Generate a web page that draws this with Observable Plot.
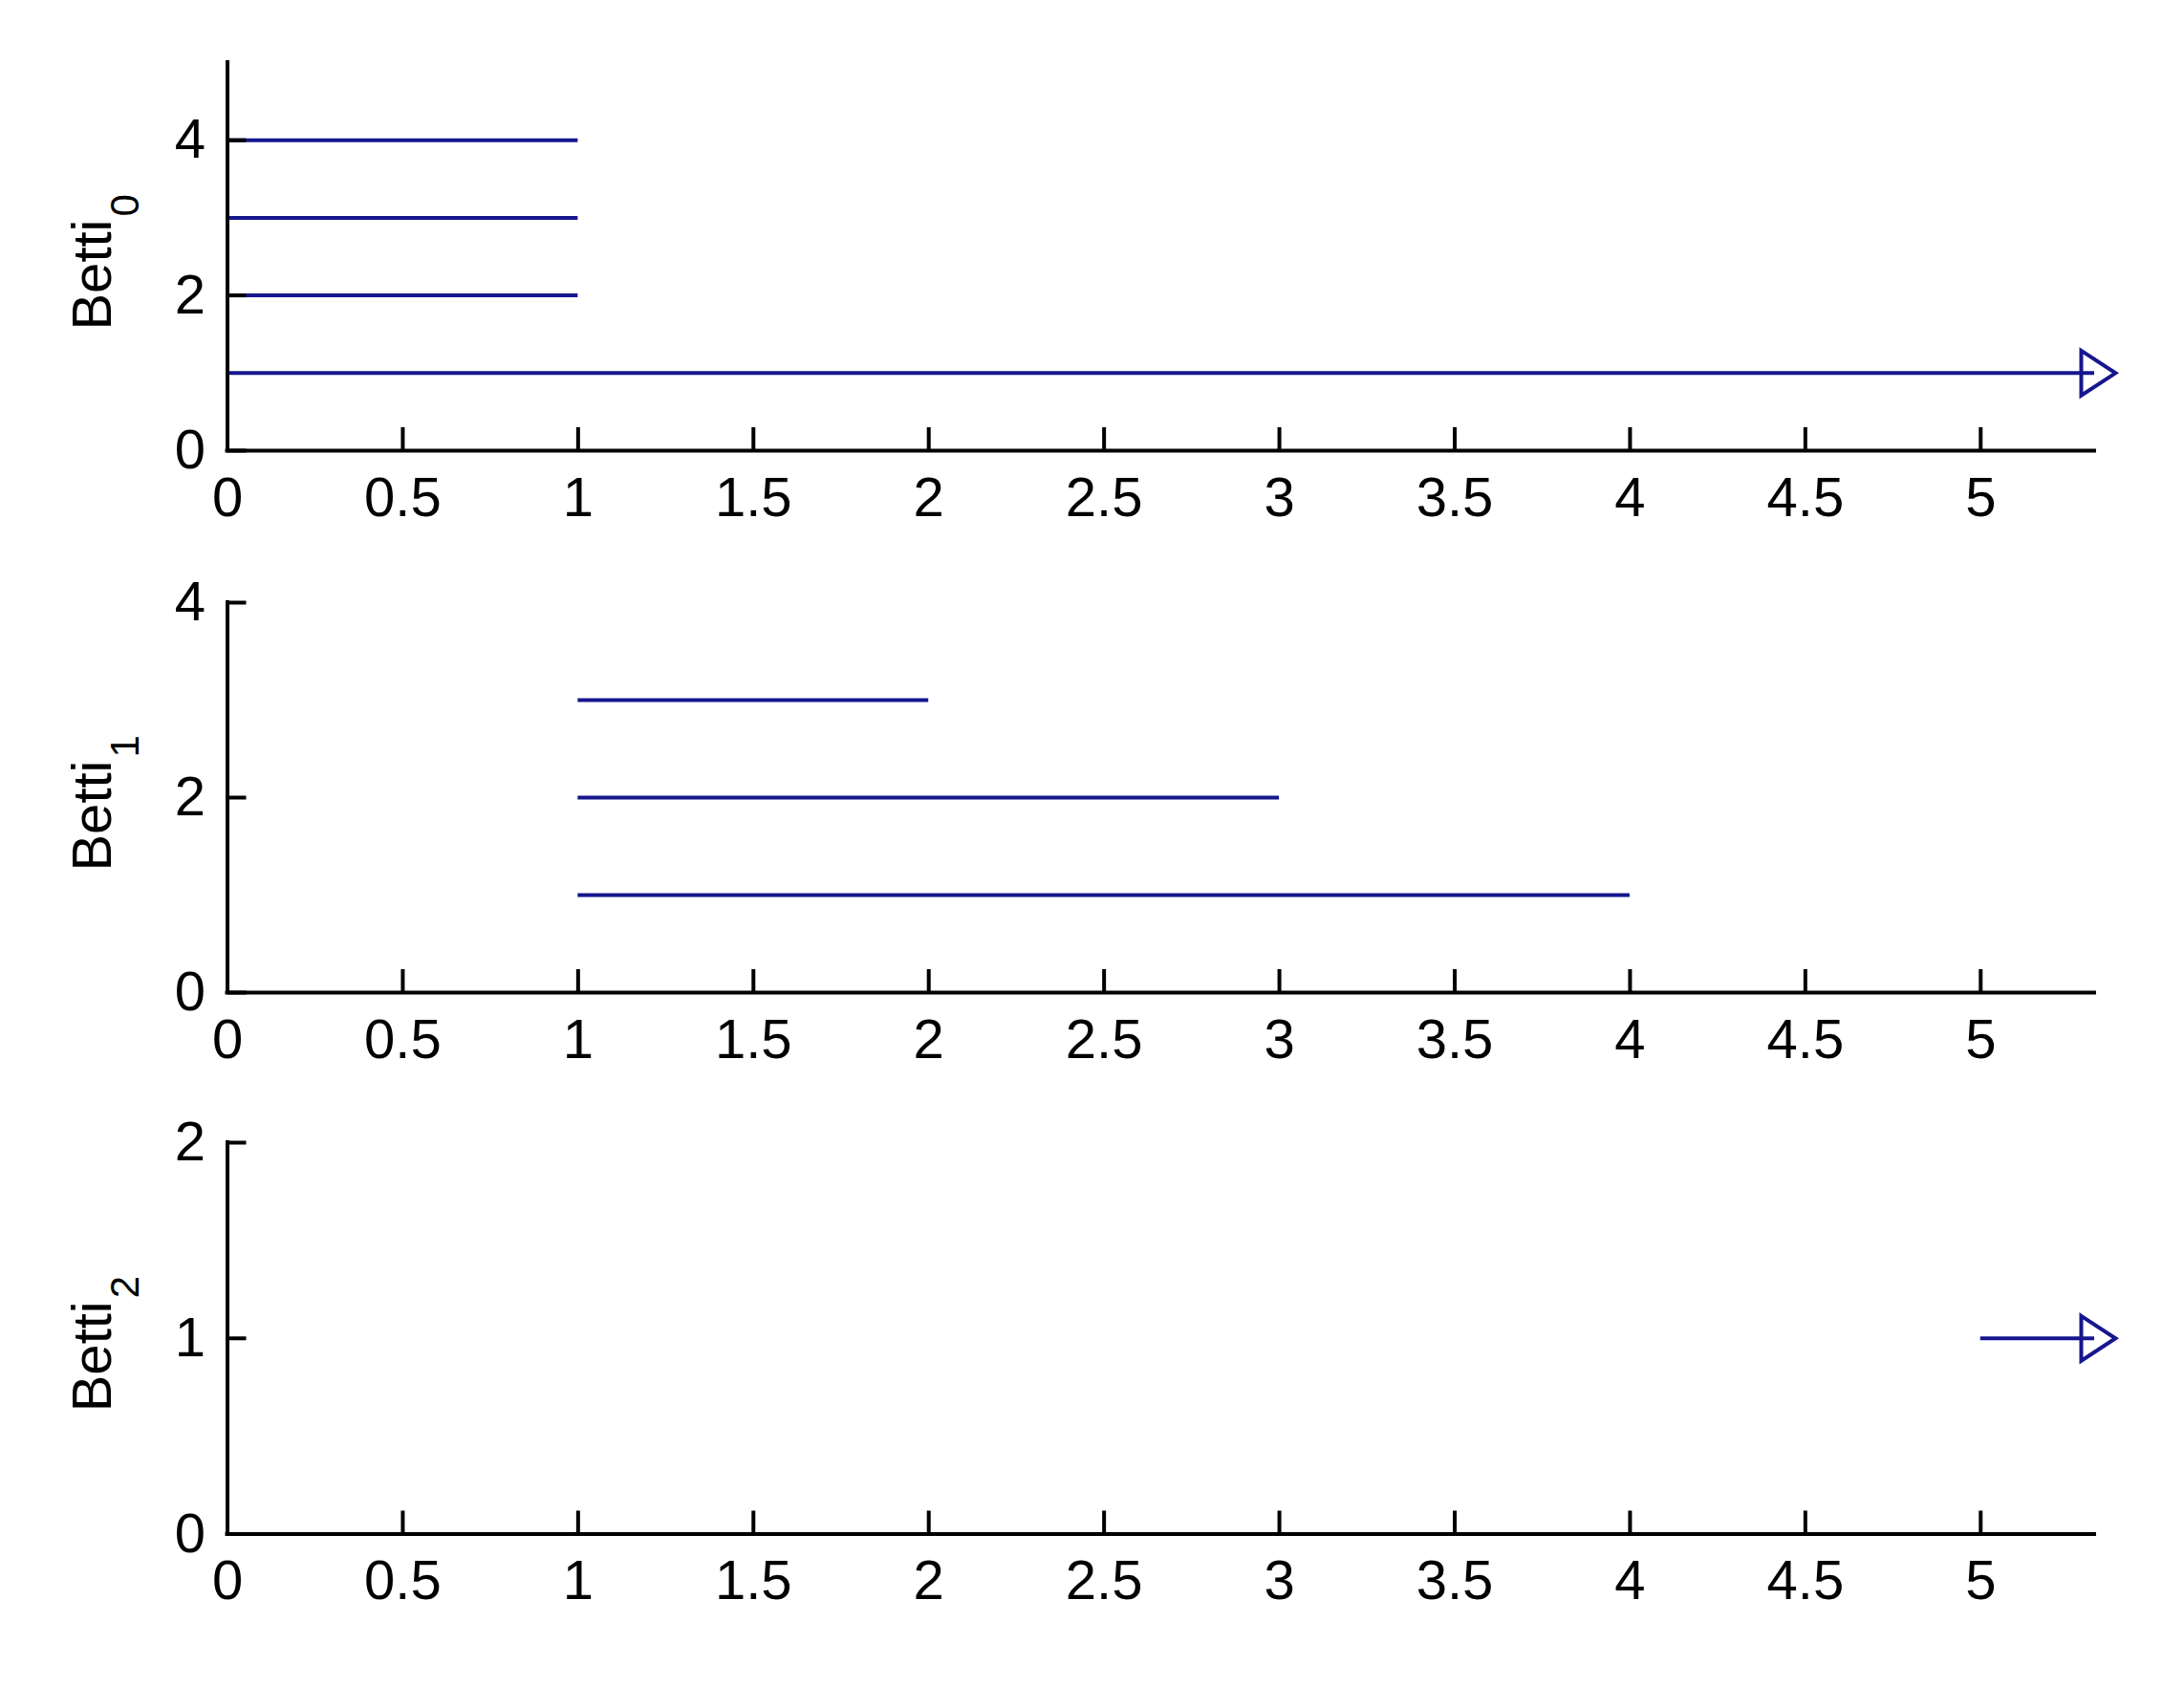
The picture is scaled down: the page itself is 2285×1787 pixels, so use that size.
<!DOCTYPE html>
<html>
<head>
<meta charset="utf-8">
<script src="https://cdn.jsdelivr.net/npm/d3@7"></script>
<script src="https://cdn.jsdelivr.net/npm/@observablehq/plot@0.6"></script>
<style>
  html, body { margin: 0; padding: 0; background: #ffffff; }
  #chart { position: relative; width: 2285px; height: 1787px; overflow: hidden; background: #ffffff; }
  #chart svg { position: absolute; left: 0; }
</style>
</head>
<body>
<div id="chart"></div>
<script>
// ---- data ----
// Betti_0 barcode
const betti0Birth = [0, 0, 0, 0];
const betti0Death = [1, 1, 1, Infinity];
const betti0Level = [4, 3, 2, 1];
// Betti_1 barcode
const betti1Birth = [1, 1, 1];
const betti1Death = [2, 3, 4];
const betti1Level = [3, 2, 1];
// Betti_2 barcode
const betti2Birth = [5];
const betti2Death = [Infinity];
const betti2Level = [1];

const xTicks = [0, 0.5, 1, 1.5, 2, 2.5, 3, 3.5, 4, 4.5, 5];
const xDomain = [0, 5.325];
const panelLabels = ["Betti", "Betti", "Betti"];
const panelSubs = ["0", "1", "2"];
const yDomains = [[0, 5], [0, 4], [0, 2]];
const yTicksList = [[0, 2, 4], [0, 2, 4], [0, 1, 2]];

// ---- layout ----
const W = 2285;
const marginLeft = 237.5;
const marginRight = W - 2191;
const padTop = 60, padBottom = 100;
const panels = [
  {top: 65, h: 406, birth: betti0Birth, death: betti0Death, level: betti0Level},
  {top: 629.5, h: 408, birth: betti1Birth, death: betti1Death, level: betti1Level},
  {top: 1195, h: 409.5, birth: betti2Birth, death: betti2Death, level: betti2Level}
];
const barColor = "#16168e";
const fontFamily = "'Liberation Sans', Arial, sans-serif";
const plotW = W - marginLeft - marginRight;

// open right-pointing triangle marker (MATLAB '>' style)
const rightTriangle = {
  draw(context, size) {
    const r = Math.sqrt(size / Math.PI);
    context.moveTo(-0.8 * r, -1.34 * r);
    context.lineTo(1.25 * r, 0);
    context.lineTo(-0.8 * r, 1.34 * r);
    context.closePath();
  }
};

const chart = document.getElementById("chart");

panels.forEach((p, i) => {
  const bars = p.level.map((lv, j) => ({
    level: lv,
    birth: p.birth[j],
    death: p.death[j],
    end: Number.isFinite(p.death[j]) ? p.death[j] : xDomain[1],
    infinite: !Number.isFinite(p.death[j])
  }));
  const infinite = bars.filter(d => d.infinite);

  const svg = Plot.plot({
    width: W,
    height: padTop + p.h + padBottom,
    marginTop: padTop,
    marginBottom: padBottom,
    marginLeft,
    marginRight,
    style: {fontFamily, fontSize: "58px", background: "transparent", overflow: "visible"},
    x: {domain: xDomain},
    y: {domain: yDomains[i]},
    marks: [
      // bars
      Plot.ruleY(bars, {y: "level", x1: "birth", x2: "end", stroke: barColor, strokeWidth: 4}),
      // arrow heads for infinite bars
      Plot.dot(infinite, {x: "end", y: "level", symbol: rightTriangle, r: 17.5,
        stroke: barColor, strokeWidth: 4, fill: "none"}),
      // axis lines
      Plot.ruleX([0], {stroke: "#000", strokeWidth: 4, strokeLinecap: "square"}),
      Plot.ruleY([0], {stroke: "#000", strokeWidth: 4, strokeLinecap: "square"}),
      // inward ticks
      Plot.tickX(xTicks, {x: d => d, stroke: "#000", strokeWidth: 4, insetTop: p.h - 24}),
      Plot.tickY(yTicksList[i], {y: d => d, stroke: "#000", strokeWidth: 4, insetRight: plotW - 20}),
      // tick labels
      Plot.axisX({ticks: xTicks, tickSize: 0, tickPadding: 27, label: null, tickFormat: d => String(d), fontSize: 58}),
      Plot.axisY({ticks: yTicksList[i], tickSize: 0, tickPadding: 23, label: null, tickFormat: d => String(d), fontSize: 58}),
      // y label with subscript
      Plot.text([panelLabels[i]], {text: d => d, frameAnchor: "left", rotate: -90, textAnchor: "end",
        lineAnchor: "bottom", dx: -122, dy: -39, fontSize: 58}),
      Plot.text([panelSubs[i]], {text: d => d, frameAnchor: "left", rotate: -90, textAnchor: "start",
        lineAnchor: "bottom", dx: -93, dy: -42, fontSize: 42})
    ]
  });
  svg.style.top = (p.top - padTop) + "px";
  chart.appendChild(svg);
});
</script>
</body>
</html>
